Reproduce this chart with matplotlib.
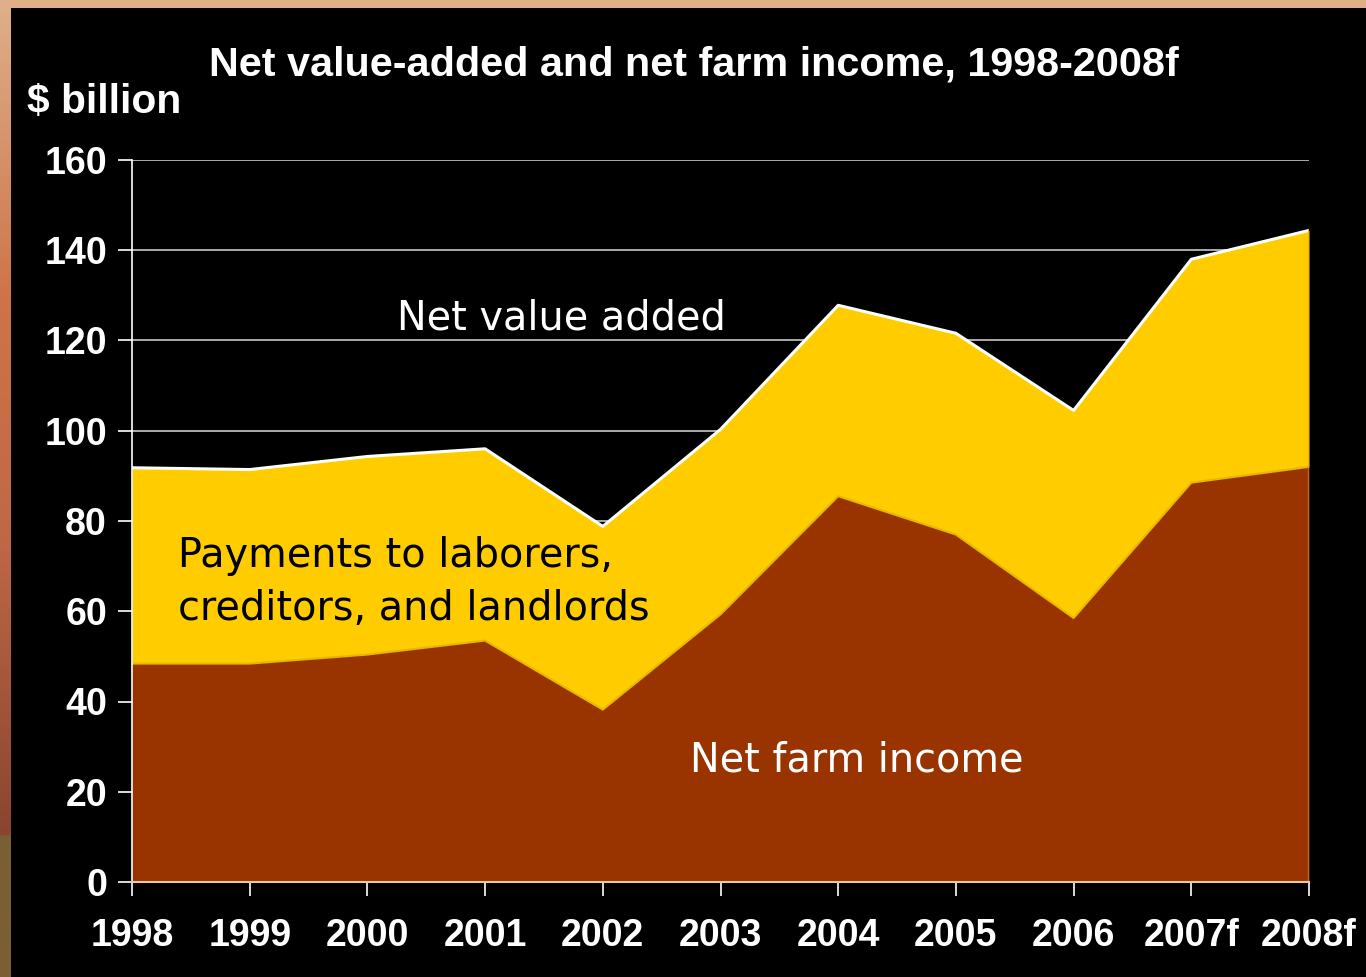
import numpy as np
import matplotlib
matplotlib.use("Agg")
import matplotlib.pyplot as plt
from matplotlib.colors import LinearSegmentedColormap

# Net value added and net farm income, $ billion
years = ["1998", "1999", "2000", "2001", "2002", "2003",
         "2004", "2005", "2006", "2007f", "2008f"]
net_value_added = [91.8, 91.4, 94.3, 96.0, 78.8, 100.3,
                   127.8, 121.6, 104.5, 138.0, 144.4]
net_farm_income = [48.4, 48.4, 50.4, 53.5, 38.2, 59.3,
                   85.5, 77.0, 58.5, 88.5, 92.0]

BROWN = "#993300"
GOLD = "#FFCC00"

fig = plt.figure(figsize=(13.66, 9.77), dpi=100, facecolor="black")

# slide border: gradient strip on the left, flat strip on top
strip = fig.add_axes([0, 0, 11 / 1366, 1])
strip_cmap = LinearSegmentedColormap.from_list(
    "strip", [(0.0, "#DEB08A"), (0.30, "#CF7449"), (0.55, "#C06846"),
              (0.855, "#8A4530"), (0.856, "#7A5F35"), (1.0, "#7A5F35")])
strip.imshow(np.linspace(0, 1, 400).reshape(-1, 1), aspect="auto",
             cmap=strip_cmap, extent=[0, 1, 1, 0])
strip.axis("off")
top = fig.add_axes([0, 1 - 8 / 977, 1, 8 / 977])
top.set_facecolor("#E0AE88")
top.set_xticks([])
top.set_yticks([])
for s in top.spines.values():
    s.set_visible(False)

ax = fig.add_axes([132 / 1366, 1 - 882 / 977, 1177 / 1366, 722 / 977])
ax.set_facecolor("black")
x = np.arange(len(years))

ax.fill_between(x, net_farm_income, net_value_added, color=GOLD, lw=0, zorder=2)
ax.fill_between(x, 0, net_farm_income, color=BROWN, lw=0, zorder=3)
ax.plot(x, net_farm_income, color="#E8B800", lw=1.5, zorder=4)
ax.plot(x, net_value_added, color="white", lw=2.2, zorder=4)
ax.plot([x[-1], x[-1]], [0, net_farm_income[-1]], color="#A86A38", lw=2.5, zorder=4)
ax.plot([x[-1], x[-1]], [net_farm_income[-1], net_value_added[-1]],
        color="#E8B800", lw=1.5, zorder=4)

ax.set_xlim(0, len(years) - 1)
ax.set_ylim(0, 160)
ax.set_yticks(range(0, 161, 20))
ax.set_xticks(x)
ax.set_xticklabels(years)
ax.yaxis.grid(True, color="#C8C8C8", lw=1.2, zorder=1)
ax.set_axisbelow(True)

for side in ["top", "right"]:
    ax.spines[side].set_visible(False)
ax.spines["left"].set_color("white")
ax.spines["left"].set_linewidth(1.2)
ax.spines["left"].set_zorder(5)
ax.spines["bottom"].set_color("#E8C8A0")
ax.spines["bottom"].set_linewidth(1.5)
ax.spines["bottom"].set_zorder(5)
ax.tick_params(colors="white", length=10, width=1.2, direction="out")
ax.tick_params(axis="y", pad=8)
ax.tick_params(axis="x", pad=16)
for lab in ax.get_xticklabels() + ax.get_yticklabels():
    lab.set_fontfamily("Liberation Sans")
    lab.set_fontweight("bold")
    lab.set_fontsize(27)
    lab.set_color("white")

fig.text(694 / 1366, 1 - 65 / 977, "Net value-added and net farm income, 1998-2008f",
         ha="center", va="center", color="white", fontsize=29.8,
         fontweight="bold", fontfamily="Liberation Sans")
fig.text(27 / 1366, 1 - 102 / 977, "$ billion", ha="left", va="center",
         color="white", fontsize=29.3, fontweight="bold", fontfamily="Liberation Sans")

ax.text(3.65, 124.8, "Net value added", ha="center", va="center",
        color="white", fontsize=28.6, fontfamily="DejaVu Sans", zorder=6)
ax.text(0.39, 72.3, "Payments to laborers,", ha="left", va="center",
        color="black", fontsize=28.6, fontfamily="DejaVu Sans", zorder=6)
ax.text(0.39, 60.6, "creditors, and landlords", ha="left", va="center",
        color="black", fontsize=28.6, fontfamily="DejaVu Sans", zorder=6)
ax.text(6.16, 27.0, "Net farm income", ha="center", va="center",
        color="white", fontsize=28.6, fontfamily="DejaVu Sans", zorder=6)

fig.savefig("out.png", dpi=100, facecolor="black")
